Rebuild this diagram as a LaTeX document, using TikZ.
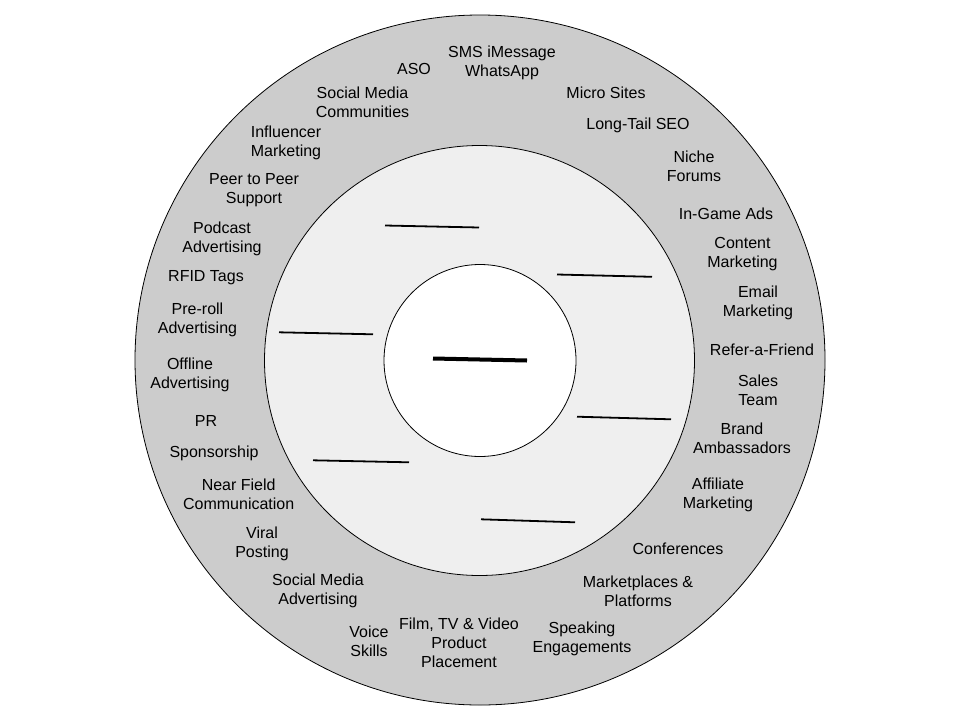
\documentclass[tikz,border=0pt]{standalone}
\usepackage{fontspec}
\setmainfont{Liberation Sans}
\definecolor{outergray}{HTML}{CCCCCC}
\definecolor{midgray}{HTML}{EFEFEF}
\begin{document}
\begin{tikzpicture}[x=1pt,y=-1pt,
  lbl/.style={align=center,inner sep=0pt,font=\fontsize{16}{19}\selectfont},
  ring/.style={circle,draw=black,line width=0.8pt,inner sep=0pt},
  blank/.style={line width=1.8pt},
  centreline/.style={line width=4pt}]
\useasboundingbox (0,0) rectangle (960,720);
\fill[white] (0,0) rectangle (960,720);
% rings
\node[ring,fill=outergray,minimum size=690pt] (outer) at (480,360) {};
\node[ring,fill=midgray,minimum size=430pt] (mid) at (479.5,360.5) {};
\node[ring,fill=white,minimum size=192pt] (inner) at (480,360.5) {};
% blank placeholder lines
\coordinate (c1) at (433,358.5); \coordinate (c2) at (527,360.5);
\draw[centreline] (c1) -- (c2);
\coordinate (a1) at (385,225.5); \coordinate (b1) at (479,227.5);
\coordinate (a2) at (557,274.5); \coordinate (b2) at (652,276.8);
\coordinate (a3) at (279,332.3); \coordinate (b3) at (373,334.3);
\coordinate (a4) at (577,416.7); \coordinate (b4) at (671,419.3);
\coordinate (a5) at (313,460.3); \coordinate (b5) at (409,462.3);
\coordinate (a6) at (481,519.3); \coordinate (b6) at (575,522.3);
\foreach \i in {1,...,6} {\draw[blank] (a\i) -- (b\i);}
% labels
\node[lbl] (aso) at (414,69) {ASO};
\node[lbl] (sms) at (502,63) {SMS iMessage\\WhatsApp};
\node[lbl] (smc) at (362.5,102) {Social Media\\Communities};
\node[lbl] (micro) at (606,93) {Micro Sites};
\node[lbl] (lts) at (638,125.5) {Long-Tail SEO};
\node[lbl] (infl) at (286,143) {Influencer\\Marketing};
\node[lbl] (niche) at (694,166) {Niche\\Forums};
\node[lbl] (p2p) at (254,190.5) {Peer to Peer\\Support};
\node[lbl] (ingame) at (726,213.5) {In-Game Ads};
\node[lbl] (podcast) at (222,239) {Podcast\\Advertising};
\node[lbl] (content) at (742.5,254.5) {Content\\Marketing};
\node[lbl] (rfid) at (206,277.5) {RFID Tags};
\node[lbl] (email) at (758,303) {Email\\Marketing};
\node[lbl] (preroll) at (197.5,319.5) {Pre-roll\\Advertising};
\node[lbl] (refer) at (762,350) {Refer-a-Friend};
\node[lbl] (offline) at (190,375) {Offline\\Advertising};
\node[lbl] (sales) at (758,390.5) {Sales\\Team};
\node[lbl] (pr) at (206,420.7) {PR};
\node[lbl] (brand) at (742,438.5) {Brand\\Ambassadors};
\node[lbl] (spons) at (214,453.5) {Sponsorship};
\node[lbl] (nfc) at (238.7,494.5) {Near Field\\Communication};
\node[lbl] (affil) at (718,495) {Affiliate\\Marketing};
\node[lbl] (viral) at (262,543.5) {Viral\\Posting};
\node[lbl] (conf) at (678,549) {Conferences};
\node[lbl] (sma) at (318,591) {Social Media\\Advertising};
\node[lbl] (market) at (638,591) {Marketplaces \&\\Platforms};
\node[lbl] (voice) at (369,641.5) {Voice\\Skills};
\node[lbl] (film) at (459,642.5) {Film, TV \& Video\\Product\\Placement};
\node[lbl] (speak) at (582,639) {Speaking\\Engagements};
\end{tikzpicture}
\end{document}
